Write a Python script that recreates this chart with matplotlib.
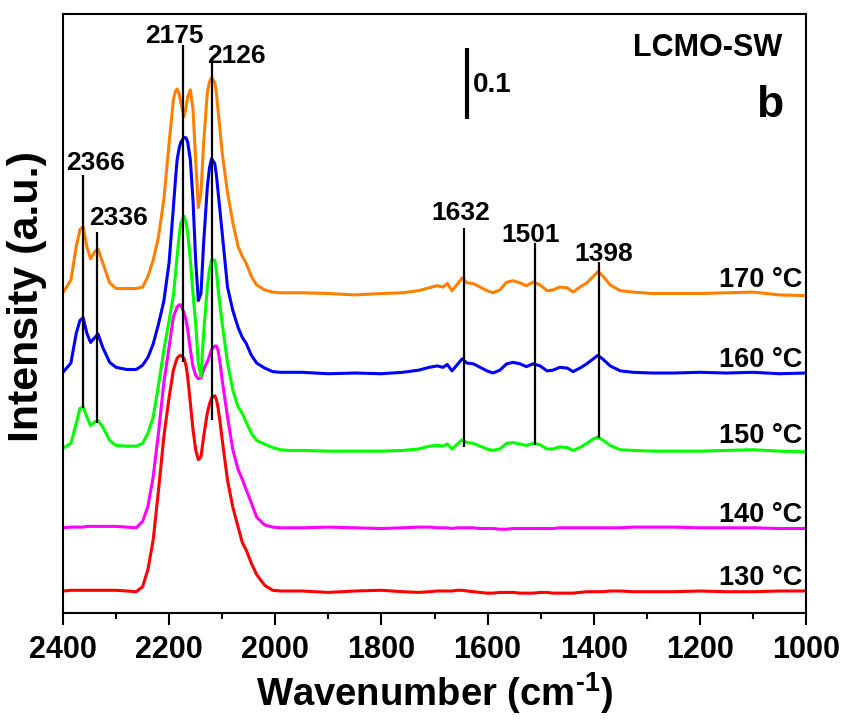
import matplotlib
matplotlib.use("Agg")
import matplotlib.pyplot as plt
from matplotlib.ticker import MultipleLocator

plt.rcParams['font.family'] = ['Liberation Sans', 'DejaVu Sans']
plt.rcParams['font.weight'] = 'bold'
plt.rcParams['mathtext.fontset'] = 'custom'
plt.rcParams['mathtext.bf'] = 'Liberation Sans:bold'
plt.rcParams['mathtext.rm'] = 'Liberation Sans:bold'
plt.rcParams['mathtext.default'] = 'bf'

# wavenumber grid (cm-1), band region + flat tail
wn_bands = [2400, 2385, 2375, 2368, 2362, 2355, 2348, 2340, 2334, 2325, 2312, 2300,
            2280, 2262, 2250, 2240, 2230, 2220, 2210, 2200, 2192, 2188, 2185, 2181,
            2178, 2172, 2168, 2165, 2160, 2155, 2150, 2145, 2140, 2135, 2128, 2124,
            2120, 2114, 2111, 2108, 2104, 2100, 2090, 2080, 2070, 2062, 2055, 2045,
            2035, 2020, 2005, 1990, 1975]
wn_tail = [1950, 1900, 1850, 1800, 1760, 1730, 1710, 1695, 1684, 1676, 1667, 1658,
           1648, 1639, 1627, 1614, 1601, 1590, 1577, 1564, 1552, 1539, 1527, 1514,
           1501, 1488, 1477, 1464, 1450, 1439, 1426, 1413, 1401, 1392, 1382, 1369,
           1350, 1326, 1290, 1250, 1200, 1150, 1100, 1050, 1000]

# intensities above each baseline (a.u.)
i170_bands = [0.000, 0.018, 0.065, 0.089, 0.093, 0.065, 0.048, 0.058, 0.062, 0.042, 0.014, 0.006,
              0.006, 0.006, 0.008, 0.023, 0.046, 0.079, 0.131, 0.211, 0.272, 0.284, 0.287, 0.280,
              0.268, 0.248, 0.262, 0.276, 0.286, 0.258, 0.187, 0.120, 0.141, 0.211, 0.282, 0.297,
              0.303, 0.296, 0.282, 0.258, 0.228, 0.197, 0.141, 0.099, 0.065, 0.051, 0.042, 0.023,
              0.011, 0.004, 0.001, 0.000, 0.000]
i170_tail = [0.000, -0.001, -0.003, -0.001, 0.000, 0.003, 0.007, 0.010, 0.008, 0.013, 0.003, 0.011,
             0.021, 0.014, 0.013, 0.008, 0.003, 0.000, 0.004, 0.015, 0.017, 0.014, 0.010, 0.015,
             0.011, 0.003, 0.004, 0.008, 0.007, 0.001, 0.008, 0.014, 0.023, 0.030, 0.023, 0.011,
             0.003, 0.001, -0.001, -0.001, -0.001, 0.000, 0.001, -0.003, -0.004]

i160_bands = [0.000, 0.013, 0.055, 0.073, 0.077, 0.055, 0.042, 0.049, 0.054, 0.035, 0.014, 0.007,
              0.004, 0.004, 0.010, 0.021, 0.040, 0.068, 0.100, 0.155, 0.232, 0.272, 0.299, 0.316,
              0.324, 0.331, 0.330, 0.324, 0.299, 0.242, 0.158, 0.101, 0.111, 0.182, 0.261, 0.288,
              0.301, 0.294, 0.278, 0.256, 0.226, 0.196, 0.120, 0.087, 0.063, 0.049, 0.041, 0.024,
              0.013, 0.006, 0.001, 0.000, 0.000]
i160_tail = [0.000, -0.002, -0.001, -0.002, 0.000, 0.003, 0.007, 0.009, 0.007, 0.011, 0.002, 0.010,
             0.019, 0.013, 0.012, 0.007, 0.002, -0.001, 0.003, 0.012, 0.014, 0.012, 0.008, 0.012,
             0.009, 0.002, 0.003, 0.007, 0.006, 0.001, 0.006, 0.012, 0.019, 0.024, 0.018, 0.009,
             0.002, 0.000, -0.001, -0.001, 0.000, -0.001, 0.000, -0.002, -0.001]

i150_bands = [0.000, 0.007, 0.035, 0.056, 0.058, 0.044, 0.032, 0.037, 0.039, 0.030, 0.011, 0.004,
              0.003, 0.003, 0.007, 0.021, 0.044, 0.089, 0.138, 0.180, 0.215, 0.245, 0.270, 0.300,
              0.317, 0.327, 0.318, 0.303, 0.265, 0.218, 0.176, 0.120, 0.101, 0.162, 0.227, 0.252,
              0.265, 0.265, 0.250, 0.227, 0.200, 0.176, 0.120, 0.082, 0.058, 0.049, 0.037, 0.021,
              0.011, 0.006, 0.001, -0.002, -0.003]
i150_tail = [-0.003, -0.004, -0.004, -0.004, -0.003, -0.001, 0.003, 0.004, 0.003, 0.006, -0.001, 0.005,
             0.012, 0.008, 0.007, 0.003, -0.001, -0.003, -0.001, 0.007, 0.008, 0.006, 0.004, 0.007,
             0.005, -0.001, -0.001, 0.002, 0.001, -0.003, 0.001, 0.007, 0.013, 0.016, 0.011, 0.004,
             -0.002, -0.003, -0.004, -0.004, -0.004, -0.003, -0.002, -0.004, -0.005]

i140_bands = [0.000, 0.001, 0.001, 0.001, 0.001, 0.002, 0.002, 0.002, 0.002, 0.002, 0.002, 0.002,
              0.001, 0.000, 0.009, 0.030, 0.072, 0.134, 0.204, 0.255, 0.297, 0.305, 0.311, 0.314,
              0.314, 0.303, 0.292, 0.279, 0.251, 0.227, 0.215, 0.210, 0.211, 0.223, 0.234, 0.242,
              0.251, 0.256, 0.256, 0.251, 0.232, 0.208, 0.156, 0.110, 0.082, 0.068, 0.054, 0.035,
              0.015, 0.004, 0.001, 0.000, 0.000]
i140_tail = [0.000, 0.001, 0.000, -0.001, 0.000, 0.001, 0.001, 0.000, 0.000, 0.000, -0.001, 0.000,
             0.000, 0.000, 0.000, -0.001, -0.001, -0.001, -0.002, -0.002, -0.001, -0.001, -0.001, -0.001,
             -0.001, -0.001, -0.001, 0.000, 0.000, 0.000, 0.000, 0.000, 0.000, 0.000, 0.000, 0.000,
             0.000, 0.001, 0.001, 0.001, 0.000, 0.000, 0.000, -0.001, -0.001]

i130_bands = [0.000, 0.001, 0.001, 0.001, 0.001, 0.001, 0.001, 0.001, 0.001, 0.001, 0.001, 0.001,
              0.000, -0.001, 0.006, 0.030, 0.072, 0.142, 0.217, 0.273, 0.311, 0.321, 0.328, 0.331,
              0.332, 0.328, 0.317, 0.301, 0.265, 0.227, 0.199, 0.185, 0.189, 0.217, 0.251, 0.263,
              0.272, 0.275, 0.270, 0.259, 0.238, 0.213, 0.156, 0.118, 0.090, 0.068, 0.058, 0.039,
              0.023, 0.008, 0.001, 0.000, 0.000]
i130_tail = [0.000, -0.002, 0.000, 0.001, -0.001, -0.002, -0.001, 0.000, 0.000, 0.000, 0.000, 0.001,
             0.001, 0.000, -0.001, -0.002, -0.003, -0.003, -0.002, -0.002, -0.002, -0.003, -0.003, -0.003,
             -0.002, -0.002, -0.003, -0.003, -0.003, -0.003, -0.002, -0.001, -0.001, -0.001, -0.001, 0.000,
             0.000, -0.001, -0.001, -0.001, 0.000, -0.001, -0.001, 0.000, 0.000]

temps = ['130 °C', '140 °C', '150 °C', '160 °C', '170 °C']
offsets = [0.031, 0.120, 0.232, 0.339, 0.451]
colors = ['#FF0000', '#FF00FF', '#00FF00', '#0000FF', '#FF8000']
spectra = [i130_bands + i130_tail, i140_bands + i140_tail, i150_bands + i150_tail,
           i160_bands + i160_tail, i170_bands + i170_tail]
wn = wn_bands + wn_tail

# peak markers: position of line, line bottom/top, label text and label anchor
peak_labels = ['2366', '2336', '2175', '2126', '1632', '1501', '1398']
peak_pos = [2362, 2336, 2174, 2119, 1644, 1510, 1390]
peak_bottom = [0.289, 0.268, 0.354, 0.272, 0.234, 0.237, 0.246]
peak_top = [0.617, 0.537, 0.800, 0.775, 0.542, 0.521, 0.494]
label_x = [2338, 2296, 2191, 2074, 1650, 1518, 1382]
label_y = [0.624, 0.546, 0.803, 0.775, 0.554, 0.523, 0.496]

fig = plt.figure(figsize=(8.52, 7.2), dpi=100)
ax = fig.add_axes([0.0739, 0.1486, 0.8722, 0.832])

for y, off, c, t in zip(spectra, offsets, colors, temps):
    assert len(y) == len(wn)
    ax.plot(wn, [v + off for v in y], color=c, lw=2.2, solid_joinstyle='round')
    ax.text(1008, off + 0.008, t, ha='right', va='baseline', fontsize=19.5, fontweight='bold')

ax.vlines(peak_pos, peak_bottom, peak_top, colors='black', lw=1.6)
for lab, x, y in zip(peak_labels, label_x, label_y):
    ax.text(x, y, lab, ha='center', va='baseline', fontsize=19, fontweight='bold')

# 0.1 scale bar
ax.vlines([1639], [0.696], [0.796], colors='black', lw=3)
ax.text(1627, 0.744, '0.1', ha='left', va='center', fontsize=20, fontweight='bold')

ax.text(0.968, 0.968, 'LCMO-SW', transform=ax.transAxes, ha='right', va='top',
        fontsize=22, fontweight='bold')
ax.text(0.969, 0.828, 'b', transform=ax.transAxes, ha='right', va='baseline',
        fontsize=32, fontweight='bold')

ax.set_xlim(2400, 1000)
ax.set_ylim(0, 0.8437)
ax.xaxis.set_major_locator(MultipleLocator(200))
ax.xaxis.set_minor_locator(MultipleLocator(100))
ax.tick_params(axis='x', which='major', direction='out', length=8.5, width=1.5,
               labelsize=22, pad=7)
ax.tick_params(axis='x', which='minor', direction='out', length=4.3, width=1.5)
ax.set_yticks([])
for lab in ax.get_xticklabels():
    lab.set_fontweight('bold')
for s in ax.spines.values():
    s.set_linewidth(1.5)

ax.set_xlabel(r'Wavenumber (cm$^{\text{-}1}$)', fontsize=27.5, fontweight='bold', labelpad=4)
ax.set_ylabel('Intensity (a.u.)', fontsize=31, fontweight='bold')
ax.yaxis.set_label_coords(-0.022, 0.529)

fig.savefig('out.png', dpi=100)
